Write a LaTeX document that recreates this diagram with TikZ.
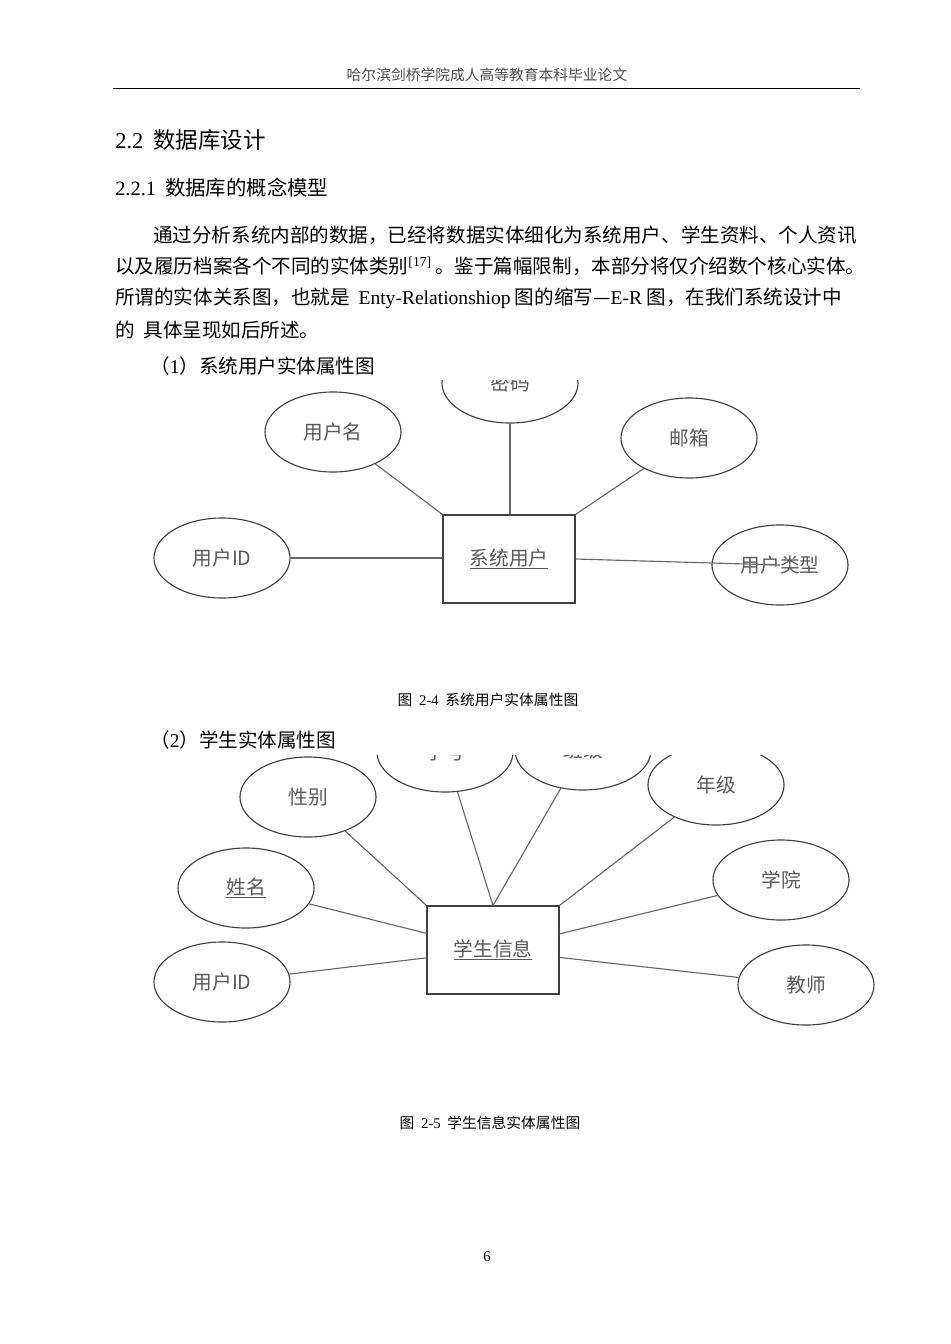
\documentclass[tikz,border=0pt]{standalone}
\usepackage{fontspec}
\setmainfont{Noto Sans CJK SC}
\newfontfamily\lat{Liberation Serif}
\usetikzlibrary{positioning,shapes}
\tikzset{
  attr/.style={draw=black!75,ellipse,thick,minimum width=3.4cm,minimum height=2cm,text=black!65,font=\fontsize{14}{16}\selectfont},
  ent/.style={draw=black!75,thick,minimum width=3.3cm,minimum height=2.2cm,text=black!65,font=\fontsize{14}{16}\selectfont},
  link/.style={draw=black!60,thick},
  body/.style={anchor=west,inner sep=0pt,font=\fontsize{13.9}{16}\selectfont},
  capt/.style={inner sep=0pt,font=\fontsize{10.5}{12}\selectfont}
}
\begin{document}
\begin{tikzpicture}[x=0.025cm,y=-0.025cm]
\useasboundingbox[fill=white] (0,0) rectangle (950,1344);
% header
\node[capt,text=black!70] (head) at (487,75) {哈尔滨剑桥学院成人高等教育本科毕业论文};
\draw (113,88) -- (860,88);
\node[body,font=\fontsize{16}{18}\selectfont] (sec) at (115,140) {{\lat 2.2}\ \ 数据库设计};
\node[body,font=\fontsize{14.5}{17}\selectfont] (subsec) at (115,188) {{\lat 2.2.1}\ \ 数据库的概念模型};
\node[body] (p1) at (153,235) {通过分析系统内部的数据，已经将数据实体细化为系统用户、学生资料、个人资讯};
\node[body] (p2) at (115,266) {以及履历档案各个不同的实体类别\textsuperscript{\lat[17]}\,。鉴于篇幅限制，本部分将仅介绍数个核心实体。};
\node[body] (p3) at (115,298) {所谓的实体关系图，也就是\ \ {\lat Enty-Relationshiop}\ 图的缩写—{\lat E-R}\ 图，在我们系统设计中};
\node[body] (p4) at (115,330) {的 \ 具体呈现如后所述。};
\node[body] (t1) at (150,366) {（{\lat 1}）系统用户实体属性图};
% diagram 1
\begin{scope}
\clip (140,380) rectangle (870,620);
\node[ent] (user) at (509,559) {\underline{系统用户}};
\node[attr] (pwd) at (510,383) {密码};
\node[attr] (uname) at (333,432) {用户名};
\node[attr] (mail) at (689,438) {邮箱};
\node[attr] (uid) at (222,558) {用户ID};
\node[attr] (utype) at (780,565) {用户类型};
\draw[link] (pwd) -- (pwd |- user.north);
\draw[link] (uname) -- (user.north west);
\draw[link] (mail) -- (user.north east);
\draw[link] (uid) -- (uid -| user.west);
\draw[link] (user.east) -- (utype.center);
\end{scope}
\node[capt] (c1) at (488,700) {图\ \ {\lat 2-4}\ \ 系统用户实体属性图};
\node[body] (t2) at (150,740) {（{\lat 2}）学生实体属性图};
% diagram 2
\begin{scope}
\clip (140,755) rectangle (890,1030);
\node[ent] (stu) at (493,950) {\underline{学生信息}};
\node[attr] (sno) at (445,752) {学号};
\node[attr] (cls) at (583,750) {班级};
\node[attr] (sex) at (308,797) {性别};
\node[attr] (grade) at (716,785) {年级};
\node[attr] (sname) at (246,888) {\underline{姓名}};
\node[attr] (dept) at (781,880) {学院};
\node[attr] (sid) at (222,982) {用户ID};
\node[attr] (tch) at (806,985) {教师};
\draw[link] (sex) -- (stu.north west);
\draw[link] (sno) -- (stu.north);
\draw[link] (cls) -- (stu.north);
\draw[link] (grade) -- (stu.north east);
\draw[link] (sname) -- (stu);
\draw[link] (dept) -- (stu);
\draw[link] (sid) -- (stu);
\draw[link] (tch) -- (stu);
\end{scope}
\node[capt] (c2) at (490,1123) {图\ \ {\lat 2-5}\ \ 学生信息实体属性图};
\node[capt,font=\lat\fontsize{10.5}{12}\selectfont] (pg) at (487,1257) {6};
\end{tikzpicture}
\end{document}
